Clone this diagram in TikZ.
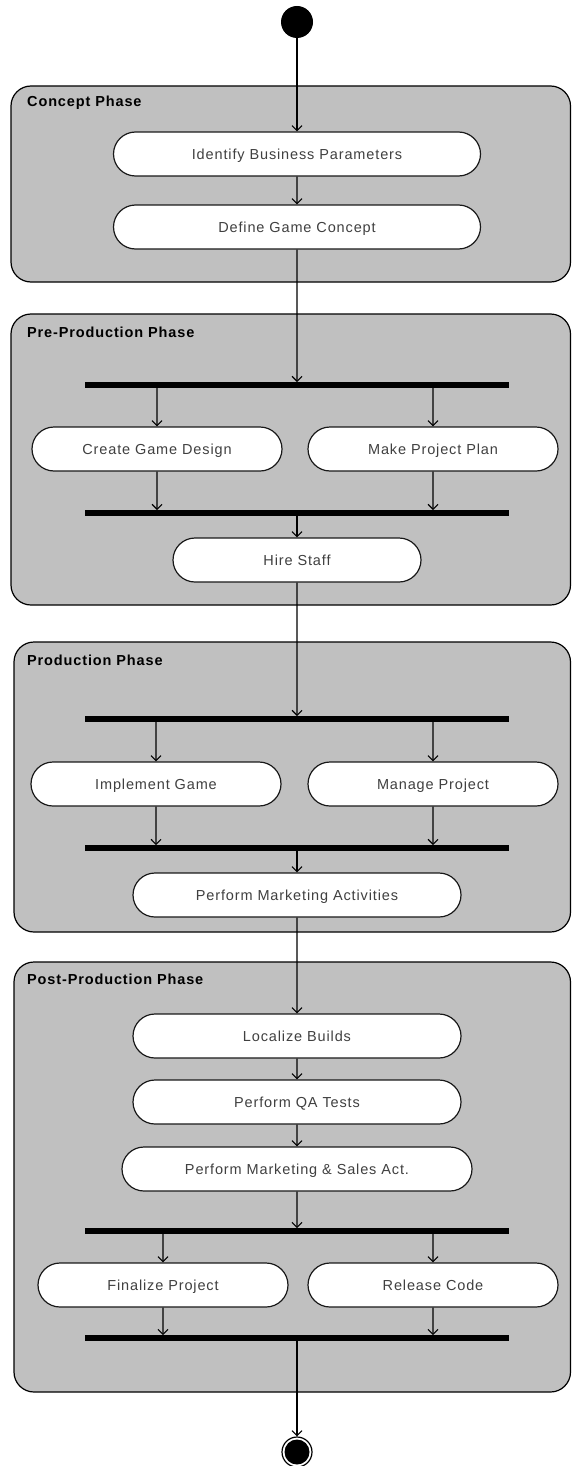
\documentclass[tikz,border=0pt]{standalone}
\usepackage{fontspec}
\setmainfont{Liberation Sans}
\newfontfamily\spacedfont[LetterSpace=6]{Liberation Sans}
\usetikzlibrary{arrows.meta,shapes.misc}
\definecolor{phasegray}{RGB}{192,192,192}
\definecolor{acttext}{RGB}{64,64,64}
\begin{document}
\begin{tikzpicture}[x=1pt,y=-1pt,
  phase/.style={draw=black, line width=1.2pt, fill=phasegray, rounded corners=20pt},
  phaselabel/.style={anchor=west, font=\spacedfont\bfseries\fontsize{14.5}{16}\selectfont, text=black, inner sep=0pt},
  act/.style={rounded rectangle, draw=black!90, line width=1.2pt, fill=white,
    minimum height=44pt, inner sep=0pt, text=acttext, text height=10.5pt, text depth=0pt,
    font=\spacedfont\fontsize{14.5}{16}\selectfont},
  bar/.style={rectangle, fill=black, minimum width=424pt, minimum height=5.5pt, inner sep=0pt},
  arr/.style={-{Straight Barb[length=5pt,width=10pt]}, line width=1.1pt, black}
]
\useasboundingbox (0,0) rectangle (572,1466);

% swimlane-like phase frames
\draw[phase] (11,86) rectangle (570.5,282);
\draw[phase] (11,314) rectangle (570.5,605);
\draw[phase] (14,642) rectangle (570.5,932);
\draw[phase] (14,962) rectangle (570.5,1392);

\node[phaselabel] (lconcept) at (27,103) {Concept Phase};
\node[phaselabel] (lpre) at (27,332) {Pre-Production Phase};
\node[phaselabel] (lprod) at (27,660) {Production Phase};
\node[phaselabel] (lpost) at (27,979) {Post-Production Phase};

% start and end states
\node[circle, fill=black, minimum size=32pt, inner sep=0pt] (init) at (297,22) {};
\node[circle, draw=black, line width=1.2pt, fill=white, minimum size=30pt, inner sep=0pt] (fin) at (297,1452) {};
\fill[black] (fin.center) circle (12.5pt);

% concept phase
\node[act, minimum width=367pt] (ibp) at (297,154) {Identify Business Parameters};
\node[act, minimum width=367pt] (dgc) at (297,227) {Define Game Concept};

% pre-production phase
\node[bar] (f1) at (297,385) {};
\node[act, minimum width=250pt] (cgd) at (157,449) {Create Game Design};
\node[act, minimum width=250pt] (mpp) at (433,449) {Make Project Plan};
\node[bar] (j1) at (297,513) {};
\node[act, minimum width=248pt] (hs) at (297,560) {Hire Staff};

% production phase
\node[bar] (f2) at (297,719) {};
\node[act, minimum width=250pt] (ig) at (156,784) {Implement Game};
\node[act, minimum width=250pt] (mp) at (433,784) {Manage Project};
\node[bar] (j2) at (297,848) {};
\node[act, minimum width=328pt] (pma) at (297,895) {Perform Marketing Activities};

% post-production phase
\node[act, minimum width=328pt] (lb) at (297,1036) {Localize Builds};
\node[act, minimum width=328pt] (qa) at (297,1102) {Perform QA Tests};
\node[act, minimum width=350pt] (pms) at (297,1169) {Perform Marketing \& Sales Act.};
\node[bar] (f3) at (297,1231) {};
\node[act, minimum width=250pt] (fp) at (163,1285) {Finalize Project};
\node[act, minimum width=250pt] (rc) at (433,1285) {Release Code};
\node[bar] (j3) at (297,1338) {};

% control flow
\draw[arr] (init) -- (ibp);
\draw[arr] (ibp) -- (dgc);
\draw[arr] (dgc) -- (f1);
\draw[arr] (f1.south -| cgd) -- (cgd);
\draw[arr] (f1.south -| mpp) -- (mpp);
\draw[arr] (cgd) -- (j1.north -| cgd);
\draw[arr] (mpp) -- (j1.north -| mpp);
\draw[arr] (j1) -- (hs);
\draw[arr] (hs) -- (f2);
\draw[arr] (f2.south -| ig) -- (ig);
\draw[arr] (f2.south -| mp) -- (mp);
\draw[arr] (ig) -- (j2.north -| ig);
\draw[arr] (mp) -- (j2.north -| mp);
\draw[arr] (j2) -- (pma);
\draw[arr] (pma) -- (lb);
\draw[arr] (lb) -- (qa);
\draw[arr] (qa) -- (pms);
\draw[arr] (pms) -- (f3);
\draw[arr] (f3.south -| fp) -- (fp);
\draw[arr] (f3.south -| rc) -- (rc);
\draw[arr] (fp) -- (j3.north -| fp);
\draw[arr] (rc) -- (j3.north -| rc);
\draw[arr] (j3) -- (fin);
\end{tikzpicture}
\end{document}
